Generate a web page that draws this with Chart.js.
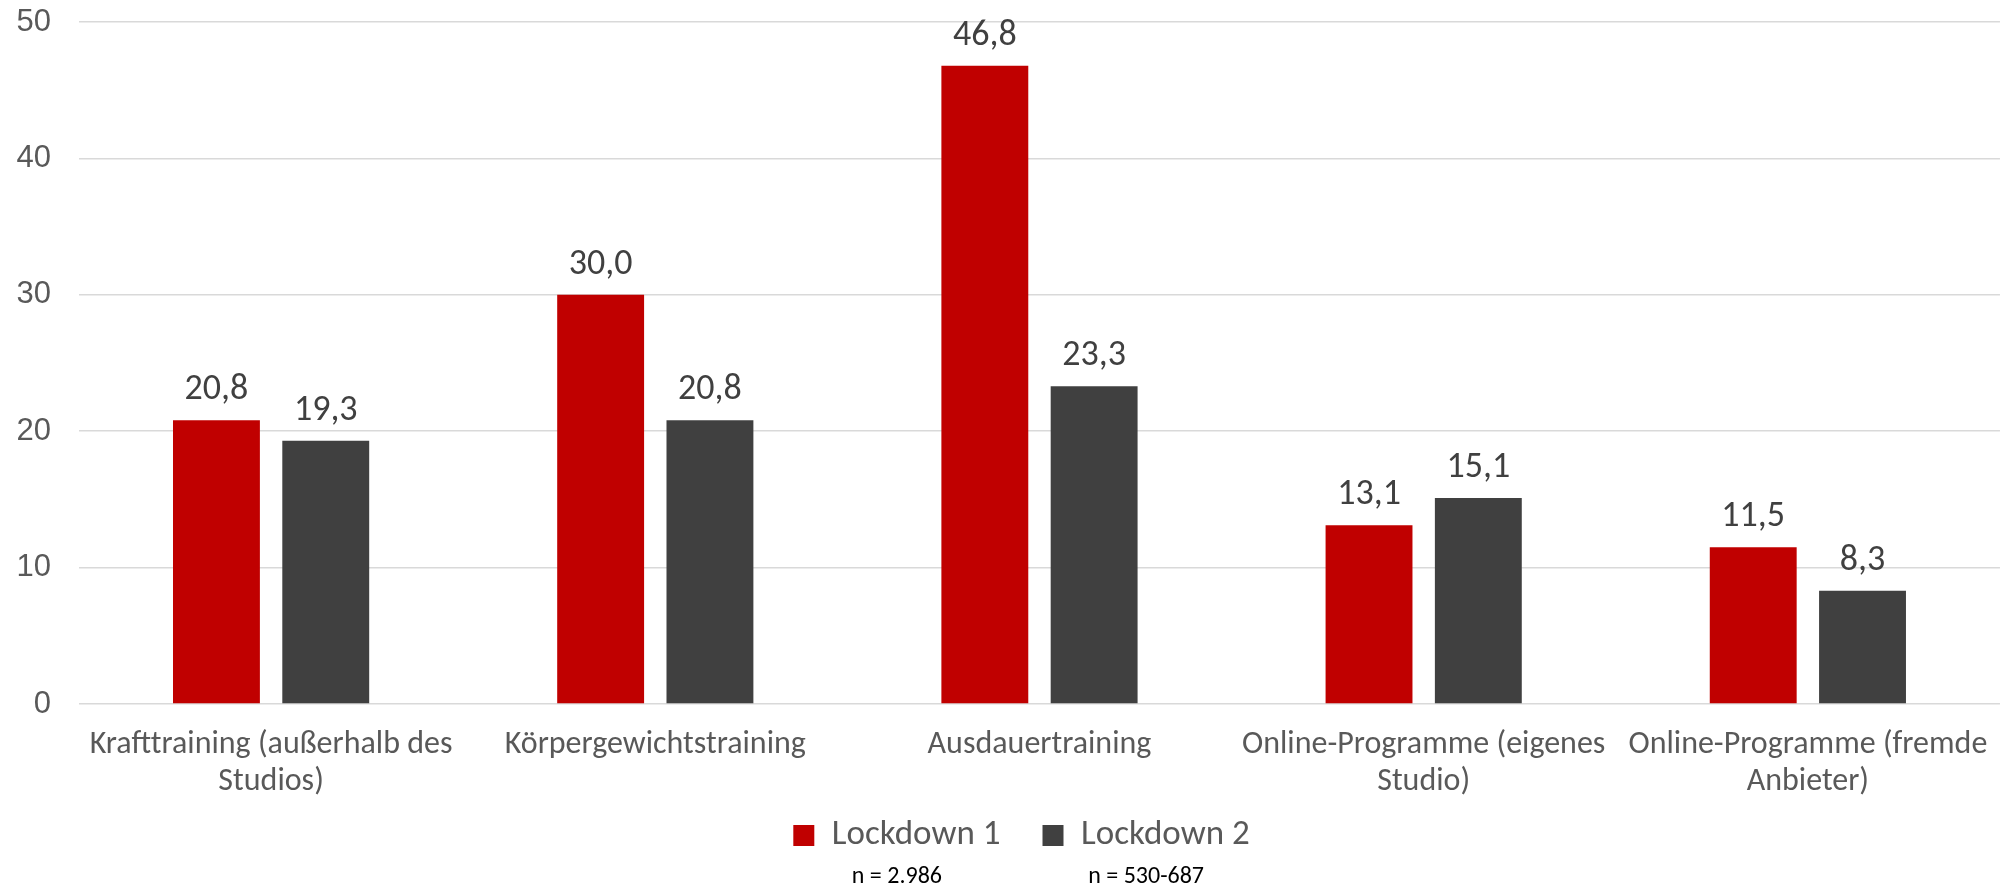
<!DOCTYPE html>
<html lang="de">
<head>
<meta charset="utf-8">
<title>Training im Lockdown</title>
<script src="https://cdn.jsdelivr.net/npm/chart.js@4.4.1/dist/chart.umd.min.js"></script>
<style>
  html, body { margin: 0; padding: 0; background: #fff; }
  #wrap { position: relative; width: 2010px; height: 887px; }
</style>
</head>
<body>
<div id="wrap"><canvas id="chart"></canvas></div>
<script>
// Kategorien und Werte (Anteil in %)
const categories = [
  ['Krafttraining (außerhalb des', 'Studios)'],
  'Körpergewichtstraining',
  'Ausdauertraining',
  ['Online-Programme (eigenes', 'Studio)'],
  ['Online-Programme (fremde', 'Anbieter)']
];
const lockdown1 = [20.8, 30.0, 46.8, 13.1, 11.5];
const lockdown2 = [19.3, 20.8, 23.3, 15.1, 8.3];
const seriesNames = ['Lockdown 1', 'Lockdown 2'];
const sampleSizes = ['n = 2.986', 'n = 530-687'];
const yTicks = [0, 10, 20, 30, 40, 50];

const RED = '#C00000';
const GREY = '#404040';
const TEXT = '#595959';
const LABEL_FONT = 'Carlito, Lato, sans-serif';

function fmt(v) {
  return v.toFixed(1).replace('.', ',');
}

// Zahlen über den Balken
const valueLabels = {
  id: 'valueLabels',
  afterDatasetsDraw(chart) {
    const ctx = chart.ctx;
    ctx.save();
    ctx.font = '36px ' + LABEL_FONT;
    ctx.fillStyle = '#404040';
    ctx.textAlign = 'center';
    ctx.textBaseline = 'alphabetic';
    chart.data.datasets.forEach((ds, i) => {
      chart.getDatasetMeta(i).data.forEach((bar, j) => {
        ctx.fillText(fmt(ds.data[j]), bar.x, bar.y - 21);
      });
    });
    ctx.restore();
  }
};

// Legende etwas nach rechts und oben rücken
const legendShift = {
  id: 'legendShift',
  afterLayout(chart) {
    const lg = chart.legend;
    lg.left += 40;
    lg.top -= 23;
    lg.bottom -= 23;
  }
};

// Stichprobengröße unter jedem Legendeneintrag
const sampleNotes = {
  id: 'sampleNotes',
  afterDraw(chart) {
    const boxes = chart.legend.legendHitBoxes || [];
    const ctx = chart.ctx;
    ctx.save();
    ctx.font = '24px ' + LABEL_FONT;
    ctx.fillStyle = '#000';
    ctx.textAlign = 'center';
    ctx.textBaseline = 'middle';
    boxes.forEach((b, i) => {
      if (sampleSizes[i]) ctx.fillText(sampleSizes[i], b.left + b.width / 2, chart.height - 10);
    });
    ctx.restore();
  }
};

new Chart(document.getElementById('chart'), {
  type: 'bar',
  data: {
    labels: categories,
    datasets: [
      { label: seriesNames[0], data: lockdown1, backgroundColor: RED },
      { label: seriesNames[1], data: lockdown2, backgroundColor: GREY }
    ]
  },
  options: {
    responsive: true,
    maintainAspectRatio: false,
    animation: false,
    layout: { padding: { left: 0, right: 7, top: 22, bottom: 1 } },
    datasets: {
      bar: { categoryPercentage: 0.569, barPercentage: 0.795 }
    },
    scales: {
      x: {
        grid: { display: false, drawTicks: false },
        border: { display: false },
        ticks: {
          color: TEXT,
          font: { family: LABEL_FONT, size: 32, lineHeight: 1.17 },
          padding: 22,
          maxRotation: 0,
          autoSkip: false
        },
        afterFit(scale) { scale.height = 95; }
      },
      y: {
        min: 0,
        max: 50,
        afterBuildTicks(scale) { scale.ticks = yTicks.map(v => ({ value: v })); },
        grid: { color: '#D9D9D9', lineWidth: 1.5, drawTicks: false },
        border: { display: false },
        ticks: {
          color: TEXT,
          font: { family: '"Liberation Sans", Arial, sans-serif', size: 31 },
          padding: 28
        },
        afterFit(scale) {
          scale.width = 79;
          scale.paddingTop = 0;
          scale.paddingBottom = 0;
        }
      }
    },
    plugins: {
      legend: {
        position: 'bottom',
        labels: {
          color: TEXT,
          font: { family: LABEL_FONT, size: 35 },
          boxWidth: 21,
          boxHeight: 21,
          padding: 42
        }
      },
      tooltip: { enabled: false }
    }
  },
  plugins: [valueLabels, legendShift, sampleNotes]
});
</script>
</body>
</html>
